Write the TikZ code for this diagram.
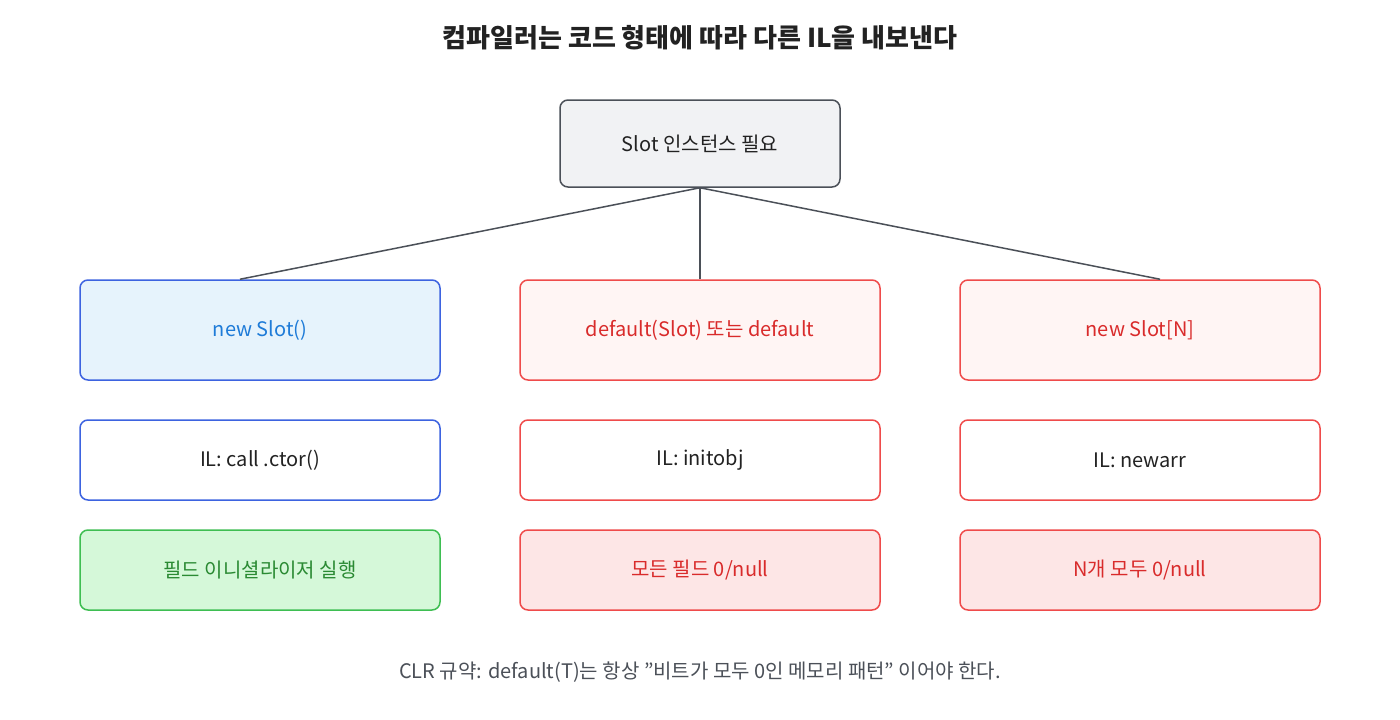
\documentclass[tikz,border=0pt]{standalone}
\usepackage{fontspec}
\setmainfont{Noto Sans CJK KR}
\usetikzlibrary{calc}
\definecolor{gbd}{HTML}{4B5058}\definecolor{gfl}{HTML}{F1F2F4}
\definecolor{bbd}{HTML}{3D63E0}\definecolor{bfl}{HTML}{E6F3FC}\definecolor{btx}{HTML}{1E7BD8}
\definecolor{rbd}{HTML}{EF4B4B}\definecolor{rfl}{HTML}{FFF5F4}\definecolor{rfl2}{HTML}{FDE6E6}\definecolor{rtx}{HTML}{D92B2B}
\definecolor{gnbd}{HTML}{3EBE52}\definecolor{gnfl}{HTML}{D5F8D9}\definecolor{gntx}{HTML}{2A8A33}
\definecolor{txt}{HTML}{222222}
\tikzset{box/.style={draw,line width=1.5pt,rounded corners=8pt,minimum width=360pt,font=\fontsize{20}{24}\selectfont},
 big/.style={box,minimum height=100pt},
 mid/.style={box,minimum height=80pt},
 blue/.style={draw=bbd,fill=bfl,text=btx},
 red/.style={draw=rbd,fill=rfl,text=rtx},
 red2/.style={draw=rbd,fill=rfl2,text=rtx},
 wb/.style={draw=bbd,fill=white,text=txt},
 wr/.style={draw=rbd,fill=white,text=txt},
 grn/.style={draw=gnbd,fill=gnfl,text=gntx},
 conn/.style={draw=gbd,line width=1.5pt}}
\begin{document}
\begin{tikzpicture}[x=1pt,y=-1pt]
\useasboundingbox[fill=white] (0,0) rectangle (1400,720);
\node[font=\fontsize{26}{30}\selectfont\bfseries,text=txt] (title) at (700,38) {컴파일러는 코드 형태에 따라 다른 IL을 내보낸다};
\node[box,draw=gbd,fill=gfl,text=txt,minimum width=280pt,minimum height=87pt] (top) at (700,143.5) {Slot 인스턴스 필요};
\node[big,blue] (a1) at (260,330) {new Slot()};
\node[big,red] (b1) at (700,330) {default(Slot) 또는 default};
\node[big,red] (c1) at (1140,330) {new Slot[N]};
\node[mid,wb] (a2) at (260,460) {IL: call .ctor()};
\node[mid,wr] (b2) at (700,460) {IL: initobj};
\node[mid,wr] (c2) at (1140,460) {IL: newarr};
\node[mid,grn] (a3) at (260,570) {필드 이니셜라이저 실행};
\node[mid,red2] (b3) at (700,570) {모든 필드 0/null};
\node[mid,red2] (c3) at (1140,570) {N개 모두 0/null};
\coordinate (ea) at ($(a1.north)+(-20,0)$);
\coordinate (ec) at ($(c1.north)+(20,0)$);
\draw[conn] (top.south) -- (ea);
\draw[conn] (top.south) -- (b1.north);
\draw[conn] (top.south) -- (ec);
\node[font=\fontsize{20}{24}\selectfont,text=gbd] (foot) at (700,672) {CLR 규약: default(T)는 항상 "비트가 모두 0인 메모리 패턴" 이어야 한다.};
\end{tikzpicture}
\end{document}
